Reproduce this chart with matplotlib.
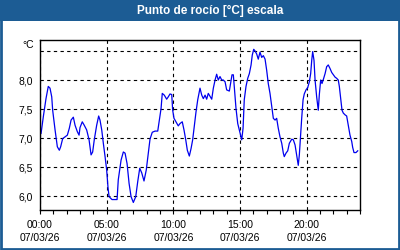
import numpy as np
import matplotlib.pyplot as plt
from matplotlib.patches import Rectangle

# dew point readings (hours since 00:00, degrees C)
hours = [0.08, 0.25, 0.45, 0.62, 0.75, 0.88, 0.95, 1.13, 1.30, 1.45, 1.55, 1.70, 1.88, 2.05,
         2.20, 2.33, 2.50, 2.63, 2.80, 2.93, 3.00, 3.17, 3.32, 3.50, 3.68, 3.83, 3.95, 4.07,
         4.25, 4.40, 4.50, 4.63, 4.75, 4.88, 5.00, 5.10, 5.18, 5.40, 5.78, 5.87, 6.08, 6.25,
         6.38, 6.53, 6.68, 6.83, 7.00, 7.18, 7.33, 7.48, 7.63, 7.80, 7.97, 8.12, 8.25, 8.42,
         8.63, 8.83, 8.95, 9.08, 9.17, 9.32, 9.50, 9.62, 9.75, 9.88, 9.95, 10.05, 10.20, 10.37,
         10.50, 10.67, 10.80, 10.93, 11.05, 11.20, 11.33, 11.45, 11.57, 11.70, 11.83, 12.00,
         12.13, 12.25, 12.38, 12.50, 12.62, 12.75, 12.88, 13.00, 13.13, 13.25, 13.37, 13.50,
         13.63, 13.75, 13.88, 14.00, 14.20, 14.33, 14.40, 14.50, 14.57, 14.70, 14.83, 14.95,
         15.04, 15.13, 15.23, 15.32, 15.45, 15.58, 15.70, 15.83, 15.92, 16.03, 16.13, 16.25,
         16.37, 16.50, 16.63, 16.75, 16.88, 17.00, 17.12, 17.25, 17.38, 17.50, 17.63, 17.75,
         17.87, 18.00, 18.13, 18.25, 18.32, 18.45, 18.58, 18.70, 18.88, 19.00, 19.13, 19.25,
         19.37, 19.45, 19.52, 19.63, 19.73, 19.82, 19.95, 20.08, 20.20, 20.30, 20.38, 20.45,
         20.55, 20.63, 20.75, 20.83, 20.87, 20.95, 21.05, 21.15, 21.25, 21.38, 21.50, 21.62,
         21.75, 21.88, 22.00, 22.13, 22.25, 22.37, 22.45, 22.55, 22.65, 22.75, 22.88, 23.00,
         23.12, 23.25, 23.38, 23.45, 23.55, 23.70, 23.83]
dew = [7.08, 7.37, 7.68, 7.89, 7.86, 7.71, 7.48, 7.14, 6.85, 6.79, 6.85, 6.99, 7.02, 7.05,
       7.17, 7.31, 7.36, 7.22, 7.11, 7.05, 7.18, 7.28, 7.22, 7.14, 6.97, 6.71, 6.76, 6.97,
       7.22, 7.38, 7.31, 7.14, 6.91, 6.68, 6.45, 6.15, 5.99, 5.94, 5.94, 6.28, 6.62, 6.76,
       6.74, 6.56, 6.22, 5.99, 5.89, 5.99, 6.25, 6.48, 6.40, 6.26, 6.45, 6.74, 6.98, 7.10,
       7.12, 7.12, 7.31, 7.51, 7.77, 7.74, 7.67, 7.71, 7.76, 7.75, 7.48, 7.34, 7.28, 7.21,
       7.25, 7.28, 7.14, 6.97, 6.79, 6.69, 6.82, 6.97, 7.20, 7.45, 7.66, 7.86,
       7.74, 7.68, 7.74, 7.67, 7.77, 7.72, 7.67, 7.86, 8.00, 8.10, 8.00, 8.06,
       8.00, 8.00, 7.97, 7.83, 7.81, 8.00, 8.09, 8.09, 7.89, 7.51, 7.25, 7.14,
       7.06, 6.97, 7.17, 7.66, 7.89, 8.03, 8.11, 8.26, 8.43, 8.53, 8.50, 8.45,
       8.36, 8.48, 8.39, 8.42, 8.36, 8.17, 7.94, 7.77, 7.54, 7.34, 7.31, 7.34,
       7.17, 7.02, 6.91, 6.74, 6.68, 6.74, 6.78, 6.91, 6.98, 6.97, 6.88, 6.71,
       6.53, 6.71, 6.97, 7.35, 7.66, 7.76, 7.83, 7.87, 7.97, 8.11, 8.34, 8.49,
       8.34, 8.00, 7.71, 7.55, 7.48, 7.75, 8.00, 7.94, 8.01, 8.11, 8.23, 8.26,
       8.20, 8.13, 8.09, 8.05, 8.03, 8.00, 7.89, 7.68, 7.48, 7.43, 7.40, 7.38,
       7.22, 7.05, 6.94, 6.84, 6.75, 6.75, 6.78]

xticks = [0, 5, 10, 15, 20]
xlabels = ['00:00\n07/03/26', '05:00\n07/03/26', '10:00\n07/03/26',
           '15:00\n07/03/26', '20:00\n07/03/26']
yticks = [6.0, 6.5, 7.0, 7.5, 8.0]
ylabels = ['6,0', '6,5', '7,0', '7,5', '8,0']

plt.rcParams['font.family'] = ['Liberation Sans', 'DejaVu Sans']

fig = plt.figure(figsize=(4, 2.5), dpi=100)
fig.patch.set_facecolor('white')

blue = '#1c5c94'
# title bar and frame
fig.add_artist(Rectangle((0, 0.916), 1, 0.084, transform=fig.transFigure,
                         facecolor=blue, edgecolor='none'))
fig.add_artist(Rectangle((0.002, 0.004), 0.996, 0.95, transform=fig.transFigure,
                         facecolor='none', edgecolor=blue, linewidth=2))
fig.text(0.525, 0.957, 'Punto de rocío [°C] escala', color='white', fontsize=8.5,
         fontweight='bold', ha='center', va='center')

ax = fig.add_axes([0.1, 0.16, 0.8, 0.68])
ax.plot(hours, dew, color='#0000ee', linewidth=0.9)

ax.set_xlim(0, 24)
ax.set_ylim(5.76, 8.69)

ax.set_xticks(xticks)
ax.set_xticklabels(xlabels, fontsize=7.5, linespacing=1.45)
ax.set_xticks(np.arange(0, 25, 1), minor=True)
ax.set_yticks(yticks + [8.5])
ax.set_yticklabels(ylabels + [''], fontsize=7.5)
ax.tick_params(axis='x', which='both', direction='out', length=3, width=0.8, pad=4)
ax.tick_params(axis='y', length=0, pad=5)

ax.grid(True, which='major', color='black', linestyle=(0, (3, 3)), linewidth=0.8)
for s in ax.spines.values():
    s.set_color('black')
    s.set_linewidth(1)

ax.text(-0.02, 8.6, '°C', fontsize=7.5, ha='right', va='center',
        transform=ax.get_yaxis_transform())

fig.savefig('out.png', dpi=100)
